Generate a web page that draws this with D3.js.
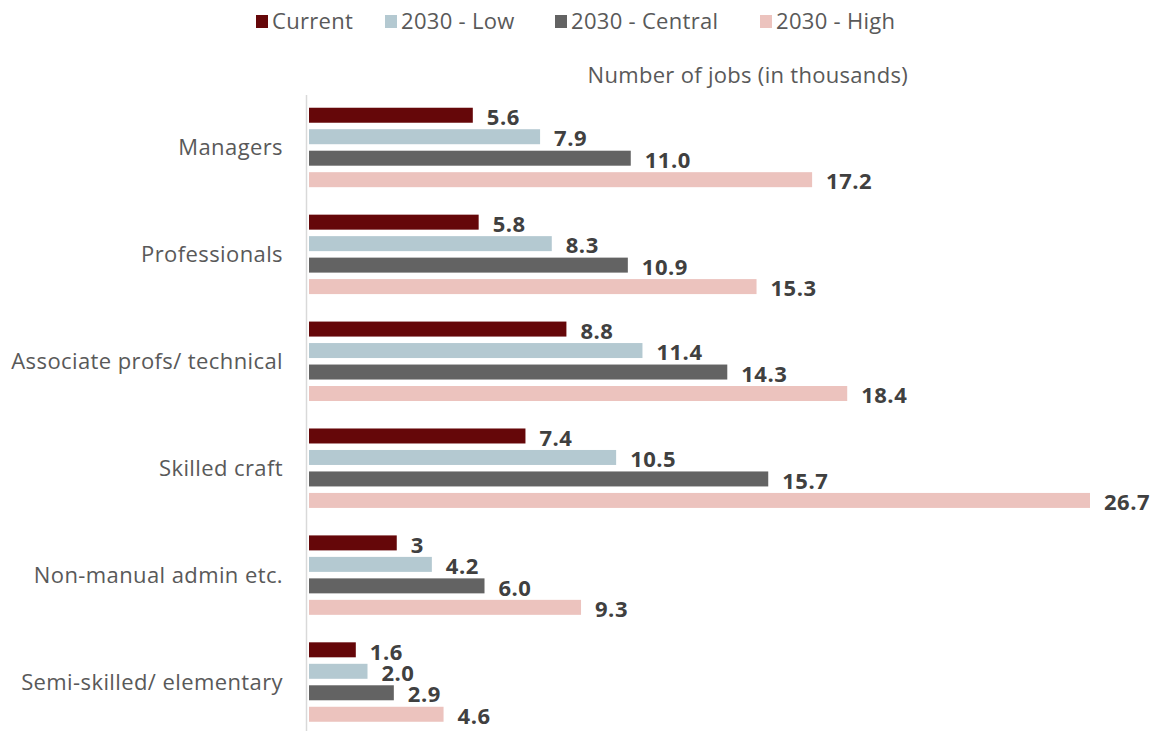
<!DOCTYPE html>
<html>
<head>
<meta charset="utf-8">
<script src="https://cdn.jsdelivr.net/npm/d3@7/dist/d3.min.js"></script>
<style>
  html, body { margin: 0; padding: 0; background: #fff; }
  svg { display: block; }
  text { font-family: "Open Sans", Lato, sans-serif; }
</style>
</head>
<body>
<svg id="chart" width="1160" height="731"></svg>
<script>
const categories = ["Managers", "Professionals", "Associate profs/ technical", "Skilled craft", "Non-manual admin etc.", "Semi-skilled/ elementary"];
const seriesNames = ["Current", "2030 - Low", "2030 - Central", "2030 - High"];
const current = [5.6, 5.8, 8.8, 7.4, 3, 1.6];
const low2030 = [7.9, 8.3, 11.4, 10.5, 4.2, 2.0];
const central2030 = [11.0, 10.9, 14.3, 15.7, 6.0, 2.9];
const high2030 = [17.2, 15.3, 18.4, 26.7, 9.3, 4.6];
const labelsText = [
  ["5.6", "5.8", "8.8", "7.4", "3", "1.6"],
  ["7.9", "8.3", "11.4", "10.5", "4.2", "2.0"],
  ["11.0", "10.9", "14.3", "15.7", "6.0", "2.9"],
  ["17.2", "15.3", "18.4", "26.7", "9.3", "4.6"]
];
const colors = ["#650709", "#b4c9d1", "#636363", "#ecc3be"];
const axisTitle = "Number of jobs (in thousands)";

const seriesValues = [current, low2030, central2030, high2030];

const svg = d3.select("#chart");
const x0 = 309;
const x = d3.scaleLinear().domain([0, 26.7]).range([x0, 1090]);
const y = d3.scaleBand().domain(categories).range([94, 735.5]).paddingInner(0.257).paddingOuter(0.1285);
const ySub = d3.scaleBand().domain(seriesNames).range([0, y.bandwidth()]).paddingInner(0.302).paddingOuter(0);

// axis line
svg.append("line")
  .attr("x1", 306.5).attr("x2", 306.5)
  .attr("y1", 95).attr("y2", 731)
  .attr("stroke", "#d9d9d9").attr("stroke-width", 1.5);

// category labels
svg.append("g").selectAll("text")
  .data(categories).join("text")
  .attr("x", 283)
  .attr("y", d => y(d) + y.bandwidth() / 2)
  .attr("dy", "0.35em")
  .attr("text-anchor", "end")
  .attr("font-size", 22)
  .attr("letter-spacing", 0.4)
  .attr("fill", "#595959")
  .text(d => d);

// bars
seriesNames.forEach((s, si) => {
  const g = svg.append("g");
  g.selectAll("rect")
    .data(seriesValues[si]).join("rect")
    .attr("x", x(0))
    .attr("y", (d, i) => y(categories[i]) + ySub(s))
    .attr("width", d => x(d) - x(0))
    .attr("height", ySub.bandwidth())
    .attr("fill", colors[si]);
  g.selectAll("text")
    .data(seriesValues[si]).join("text")
    .attr("x", d => x(d) + 14)
    .attr("y", (d, i) => y(categories[i]) + ySub(s) + ySub.bandwidth() / 2 + 2)
    .attr("dy", "0.35em")
    .attr("font-size", 22)
    .attr("letter-spacing", 0.5)
    .attr("font-weight", "bold")
    .attr("fill", "#404040")
    .text((d, i) => labelsText[si][i]);
});

// legend
const legendX = [256, 385, 555, 760];
const lg = svg.append("g");
seriesNames.forEach((s, i) => {
  lg.append("rect")
    .attr("x", legendX[i]).attr("y", 15)
    .attr("width", 12).attr("height", 13)
    .attr("fill", colors[i]);
  lg.append("text")
    .attr("x", legendX[i] + 16).attr("y", 21.5)
    .attr("dy", "0.35em")
    .attr("font-size", 22)
    .attr("letter-spacing", 0.3)
    .attr("fill", "#595959")
    .text(s);
});

// axis title
svg.append("text")
  .attr("x", 908).attr("y", 75)
  .attr("dy", "0.35em")
  .attr("text-anchor", "end")
  .attr("font-size", 22)
  .attr("letter-spacing", 0.3)
  .attr("fill", "#595959")
  .text(axisTitle);
</script>
</body>
</html>
